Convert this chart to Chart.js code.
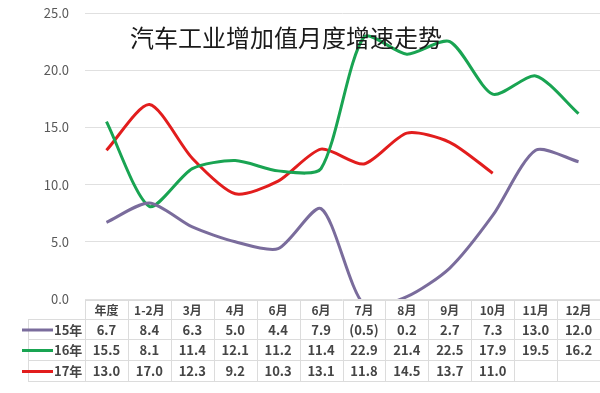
<!DOCTYPE html>
<html>
<head>
<meta charset="utf-8">
<script src="https://cdn.jsdelivr.net/npm/chart.js@4"></script>
<style>
  html, body { margin: 0; padding: 0; background: #fff; }
  #wrap { width: 600px; height: 393px; position: relative; }
</style>
</head>
<body>
<div id="wrap"><canvas id="myChart" width="600" height="393"></canvas></div>
<script>
// categories & series
const categories = ['年度', '1-2月', '3月', '4月', '6月', '6月', '7月', '8月', '9月', '10月', '11月', '12月'];
const y15 = [6.7, 8.4, 6.3, 5.0, 4.4, 7.9, -0.5, 0.2, 2.7, 7.3, 13.0, 12.0];
const y16 = [15.5, 8.1, 11.4, 12.1, 11.2, 11.4, 22.9, 21.4, 22.5, 17.9, 19.5, 16.2];
const y17 = [13.0, 17.0, 12.3, 9.2, 10.3, 13.1, 11.8, 14.5, 13.7, 11.0, null, null];
const seriesNames = ['15年', '16年', '17年'];
const colors = ['#7a6c9c', '#19a452', '#e21d1d'];

const fontFam = '"Noto Sans CJK SC", "Noto Sans", sans-serif';

// draw the data table under the plot
const tablePlugin = {
  id: 'dataTable',
  afterDraw(chart) {
    const c = chart.ctx;
    const x = chart.scales.x;
    const area = chart.chartArea;
    const colW = (area.right - area.left) / categories.length;
    const top = area.bottom + 1;
    const rowH = [19, 20, 21, 21];
    const ys = [top];
    rowH.forEach(h => ys.push(ys[ys.length - 1] + h));
    const tableLeft = 28;
    c.save();
    c.strokeStyle = '#dcdcdc';
    c.lineWidth = 1;
    c.beginPath();
    c.moveTo(area.left, ys[0] + 0.5); c.lineTo(600, ys[0] + 0.5);
    for (let i = 1; i < ys.length; i++) {
      c.moveTo(tableLeft, ys[i] + 0.5); c.lineTo(600, ys[i] + 0.5);
    }
    for (let j = 0; j <= categories.length; j++) {
      const vx = Math.round(area.left + j * colW) + 0.5;
      c.moveTo(vx, ys[0]); c.lineTo(vx, ys[4]);
    }
    c.moveTo(tableLeft + 0.5, ys[1]); c.lineTo(tableLeft + 0.5, ys[4]);
    c.stroke();

    c.textAlign = 'center';
    c.textBaseline = 'middle';
    c.fillStyle = '#454545';
    c.font = 'bold 12px ' + fontFam;
    categories.forEach((cat, j) => {
      c.fillText(cat, x.getPixelForValue(j), (ys[0] + ys[1]) / 2 + 1);
    });
    c.font = 'bold 13px ' + fontFam;
    [y15, y16, y17].forEach((arr, r) => {
      const cy = (ys[r + 1] + ys[r + 2]) / 2 + 1;
      arr.forEach((v, j) => {
        if (v === null) return;
        const txt = v < 0 ? '(' + Math.abs(v).toFixed(1) + ')' : v.toFixed(1);
        c.fillText(txt, x.getPixelForValue(j), cy);
      });
      c.strokeStyle = colors[r];
      c.lineWidth = 3;
      c.beginPath();
      c.moveTo(22, cy); c.lineTo(53, cy);
      c.stroke();
      c.textAlign = 'left';
      c.fillText(seriesNames[r], 54, cy);
      c.textAlign = 'center';
    });
    // title
    c.font = '24px ' + fontFam;
    c.fillStyle = '#1a1a1a';
    c.textAlign = 'left';
    c.fillText('汽车工业增加值月度增速走势', 130, 38);
    c.restore();
  }
};

const ctx = document.getElementById('myChart');

new Chart(ctx, {
  type: 'line',
  data: {
    labels: categories,
    datasets: [
      { label: seriesNames[0], data: y15, borderColor: colors[0] },
      { label: seriesNames[1], data: y16, borderColor: colors[1] },
      { label: seriesNames[2], data: y17, borderColor: colors[2] }
    ].map(d => Object.assign(d, { borderWidth: 3, tension: 0.25, pointRadius: 0, fill: false }))
  },
  options: {
    responsive: false,
    animation: false,
    layout: { padding: { top: 13, bottom: 94, left: 0, right: 0 } },
    plugins: { legend: { display: false }, tooltip: { enabled: false } },
    scales: {
      x: { display: false, offset: true },
      y: {
        min: 0, max: 25,
        afterFit(scale) { scale.width = 85; scale.paddingTop = 0; scale.paddingBottom = 0; },
        border: { display: false },
        grid: { color: '#e0e0e0', drawTicks: false },
        ticks: {
          stepSize: 5,
          padding: 16,
          color: '#595959',
          font: { size: 13, family: fontFam },
          callback: v => v.toFixed(1)
        }
      }
    }
  },
  plugins: [tablePlugin]
});
</script>
</body>
</html>
